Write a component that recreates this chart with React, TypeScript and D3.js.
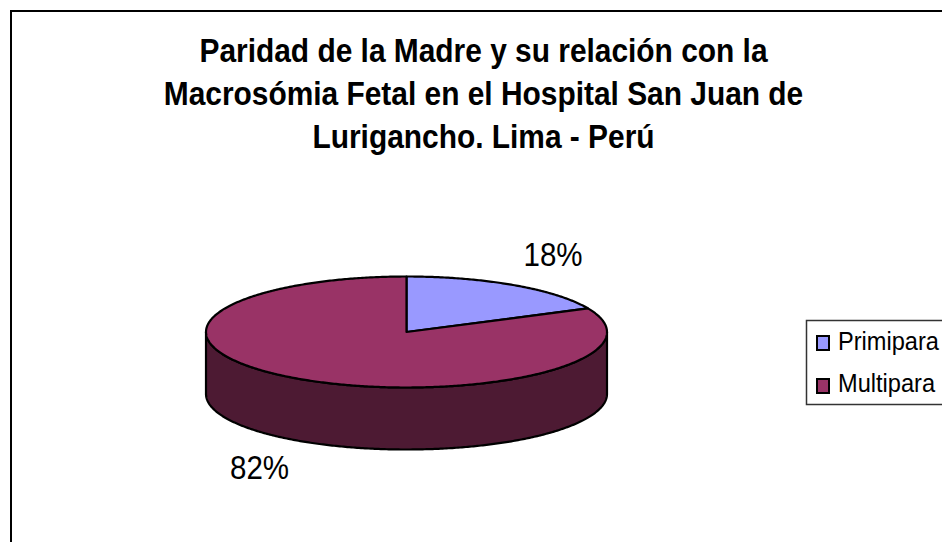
import React from "react";
import * as d3 from "d3";

const categories = ["Primipara", "Multipara"];
const values = [18, 82];
const labels = ["18%", "82%"];
const titleLines = [
  "Paridad de la Madre y su relación con la",
  "Macrosómia Fetal en el Hospital San Juan de",
  "Lurigancho. Lima - Perú",
];
const topColors = ["#9999ff", "#993366"];
const sideColor = "#4d1a33";

const W = 942, H = 542;
const cx = 406.5, cy = 332, rx = 200.5, ry = 55.5, depth = 62;
const font = "'Liberation Sans', Arial, sans-serif";

function Tall(props: { x: number; y: number; size: number; anchor?: string; bold?: boolean; children: string }) {
  return (
    <text
      transform={`translate(${props.x},${props.y}) scale(1,1.13)`}
      textAnchor={props.anchor || "start"}
      fontFamily={font}
      fontWeight={props.bold ? "bold" : "normal"}
      fontSize={props.size}
      fill="#000"
    >
      {props.children}
    </text>
  );
}

export default function App() {
  const pie = d3.pie<number>().sort(null)(values);
  const sx = d3.scaleLinear().domain([-1, 1]).range([cx - rx, cx + rx]);
  const sy = d3.scaleLinear().domain([-1, 1]).range([cy - ry, cy + ry]);
  const px = (a: number) => sx(Math.sin(a));
  const py = (a: number) => sy(-Math.cos(a));
  const ang = (s: d3.PieArcDatum<number>) => d3.range(s.startAngle, s.endAngle, 0.01).concat([s.endAngle]);
  const rim = d3.line<number>().x(px).y(py);
  const slicePath = (s: d3.PieArcDatum<number>) =>
    "M" + cx + "," + cy + "L" + rim(ang(s))!.slice(1) + "Z";
  const lower = d3.range(Math.PI / 2, (3 * Math.PI) / 2, 0.01).concat([(3 * Math.PI) / 2]);
  const wall = d3.area<number>().x(px).y0(py).y1((a) => py(a) + depth)(lower)!;
  return (
    <svg width={W} height={H} style={{ position: "absolute", left: 0, top: 0, background: "#fff" }}>
      <rect x={11} y={11} width={W + 20} height={H + 20} fill="#fff" stroke="#000" strokeWidth={2} />
      {titleLines.map((t, i) => (
        <Tall key={i} x={483.5} y={[62, 105, 148][i]} anchor="middle" bold size={29.9}>{t}</Tall>
      ))}
      <path d={wall} fill={sideColor} stroke="#000" strokeWidth={2.2} />
      {pie.map((s, i) => (
        <path key={i} d={slicePath(s)} fill={topColors[i]} stroke="#000" strokeWidth={2.2} strokeLinejoin="round" />
      ))}
      <Tall x={553} y={266} anchor="middle" size={29.5}>{labels[0]}</Tall>
      <Tall x={259.5} y={479} anchor="middle" size={29.5}>{labels[1]}</Tall>
      <rect x={806.5} y={320.5} width={W} height={84} fill="#fff" stroke="#333" strokeWidth={1.5} />
      {categories.map((c, i) => (
        <g key={c}>
          <rect x={817} y={336 + i * 43} width={12} height={14} fill={topColors[i]} stroke="#000" strokeWidth={2} />
          <Tall x={838} y={349.5 + i * 42.5} size={23.6}>{c}</Tall>
        </g>
      ))}
    </svg>
  );
}
